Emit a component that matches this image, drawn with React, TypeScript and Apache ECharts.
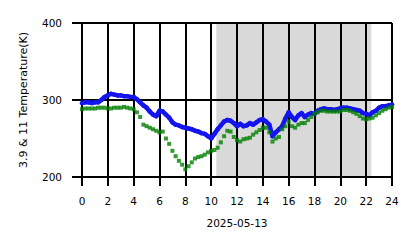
import React, { useEffect, useRef } from "react";
import * as echarts from "echarts";

const hours = [
  0, 0.25, 0.5, 0.75, 1, 1.25, 1.5, 1.75, 2, 2.25, 2.5, 2.75, 3, 3.25, 3.5, 3.75,
  4, 4.25, 4.5, 4.75, 5, 5.25, 5.5, 5.75, 6, 6.25, 6.5, 6.75, 7, 7.25, 7.5, 7.75,
  8, 8.25, 8.5, 8.75, 9, 9.25, 9.5, 9.75, 10, 10.25, 10.5, 10.75, 11, 11.25, 11.5, 11.75,
  12, 12.25, 12.5, 12.75, 13, 13.25, 13.5, 13.75, 14, 14.25, 14.5, 14.75, 15, 15.25, 15.5, 15.75,
  16, 16.25, 16.5, 16.75, 17, 17.25, 17.5, 17.75, 18, 18.25, 18.5, 18.75, 19, 19.25, 19.5, 19.75,
  20, 20.25, 20.5, 20.75, 21, 21.25, 21.5, 21.75, 22, 22.25, 22.5, 22.75, 23, 23.25, 23.5, 23.75, 24,
];

// 3.9 um brightness temperature (K)
const t39 = [
  296, 297, 297, 296, 297, 297, 300, 304, 306, 308, 307, 306, 306, 305, 305, 304,
  304, 301, 297, 293, 290, 285, 281, 279, 286, 285, 281, 277, 271, 268, 267, 265,
  264, 263, 262, 260, 259, 257, 256, 253, 250, 256, 262, 267, 272, 274, 273, 270,
  266, 269, 266, 267, 270, 268, 271, 274, 275, 272, 268, 253, 258, 262, 266, 276,
  284, 278, 274, 280, 283, 278, 281, 283, 282, 286, 288, 289, 288, 288, 287, 288,
  289, 290, 290, 289, 288, 287, 286, 283, 282, 280, 284, 286, 290, 292, 292, 293, 294,
];

// 11 um brightness temperature (K)
const t11 = [
  288, 289, 289, 289, 289, 290, 290, 290, 289, 289, 290, 290, 290, 291, 290, 289,
  288, 284, 278, 268, 266, 264, 262, 260, 258, 259, 250, 243, 234, 227, 221, 216,
  210, 214, 219, 224, 226, 227, 229, 232, 234, 235, 238, 245, 253, 260, 259, 252,
  248, 246, 249, 250, 251, 255, 258, 261, 264, 264, 258, 246, 250, 252, 262, 266,
  272, 266, 264, 268, 270, 270, 274, 278, 282, 284, 286, 286, 285, 285, 285, 285,
  285, 287, 287, 286, 284, 282, 279, 276, 275, 276, 277, 280, 283, 286, 288, 290, 291,
];

const shadeStart = 10.4;
const shadeEnd = 22.4;
const xTicks = [0, 24, 2];
const yTicks = [200, 400, 100];
const dateLabel = "2025-05-13";
const yName = "3.9 & 11 Temperature(K)";

const FONT = "DejaVu Sans";

export default function App() {
  const ref = useRef<HTMLDivElement>(null);
  useEffect(() => {
    document.body.style.margin = "0";
    const chart = echarts.init(ref.current!, null, { renderer: "svg" });
    const blue = hours.map((h, i) => [h, t39[i]]);
    const green = hours.map((h, i) => [h, t11[i]]);
    chart.setOption({
      animation: false,
      backgroundColor: "#fff",
      grid: { left: 82, right: 26, top: 23, bottom: 71 },
      xAxis: {
        type: "value",
        min: xTicks[0],
        max: xTicks[1],
        interval: xTicks[2],
        z: 1.5,
        name: dateLabel,
        nameLocation: "middle",
        nameGap: 40,
        nameTextStyle: { fontFamily: FONT, fontSize: 10.5, color: "#000" },
        axisLine: { show: false },
        axisTick: { show: true, length: 9, lineStyle: { color: "#000", width: 2 } },
        axisLabel: { margin: 18, fontFamily: FONT, fontSize: 10.5, color: "#000" },
        splitLine: { show: true, lineStyle: { color: "#000", width: 2 } },
      },
      yAxis: {
        type: "value",
        min: yTicks[0],
        max: yTicks[1],
        interval: yTicks[2],
        z: 1.5,
        name: yName,
        nameLocation: "middle",
        nameGap: 53,
        nameTextStyle: { fontFamily: FONT, fontSize: 11, color: "#000" },
        axisLine: { show: false },
        axisTick: { show: true, length: 10, lineStyle: { color: "#000", width: 2 } },
        axisLabel: { margin: 20, fontFamily: FONT, fontSize: 10.5, color: "#000" },
        splitLine: { show: true, lineStyle: { color: "#000", width: 2 } },
      },
      series: [
        {
          type: "scatter",
          data: [],
          silent: true,
          markArea: {
            silent: true,
            z: 1,
            itemStyle: { color: "#d9d9d9" },
            data: [[{ xAxis: shadeStart }, { xAxis: shadeEnd }]],
          },
        },
        {
          type: "line",
          z: 2,
          showSymbol: true,
          symbol: "circle",
          symbolSize: 4.5,
          itemStyle: { color: "#1414f0" },
          lineStyle: { color: "#1414f0", width: 4.5, cap: "round", join: "round" },
          data: blue,
        },
        {
          type: "scatter",
          symbol: "rect",
          symbolSize: 4,
          z: 3,
          itemStyle: { color: "#007f00" },
          data: green,
        },
      ],
    });
    return () => chart.dispose();
  }, []);
  return <div ref={ref} style={{ width: 418, height: 248 }} />;
}
